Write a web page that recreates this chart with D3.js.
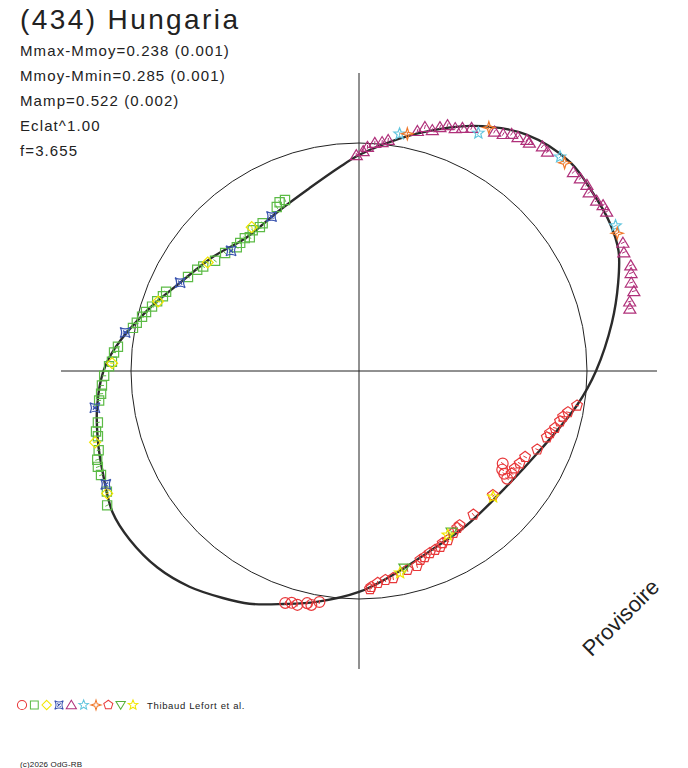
<!DOCTYPE html>
<html>
<head>
<meta charset="utf-8">
<script src="https://cdn.jsdelivr.net/npm/d3@7"></script>
<style>
  body { margin: 0; background: #fff; }
  text { font-family: "Liberation Sans", Arial, sans-serif; }
</style>
</head>
<body>
<div id="chart"></div>
<script>
// phase (0..1, clockwise from top) and magnitude offset from mean (negative = brighter)
var curvePhase = [0.000, 0.021, 0.042, 0.069, 0.098, 0.126, 0.146, 0.165, 0.181, 0.198, 0.220, 0.250,
    0.275, 0.316, 0.360, 0.403, 0.443, 0.474, 0.500, 0.529, 0.550, 0.570, 0.586, 0.606, 0.627,
    0.649, 0.667, 0.690, 0.709, 0.728, 0.749, 0.765, 0.794, 0.823, 0.856, 0.889, 0.927, 0.958, 0.985];
var curveMag = [0.059, -0.014, -0.089, -0.184, -0.260, -0.287, -0.276, -0.266, -0.246, -0.198, -0.132, -0.042,
    0.036, 0.156, 0.216, 0.209, 0.174, 0.106, 0.034, -0.032, -0.078, -0.131, -0.162, -0.201, -0.229,
    -0.241, -0.239, -0.206, -0.184, -0.161, -0.126, -0.078, 0.036, 0.145, 0.226, 0.290, 0.261, 0.201, 0.116];

var circleObs = [[0.549, -0.071], [0.545, -0.062], [0.541, -0.064], [0.535, -0.046], [0.532, -0.050],
    [0.527, -0.030], [0.341, 0.313], [0.346, 0.294], [0.348, 0.269], [0.350, 0.238]];
var squareObs = [[0.766, -0.066], [0.780, -0.010], [0.784, 0.003], [0.789, 0.021], [0.793, 0.034],
    [0.798, 0.055], [0.803, 0.071], [0.808, 0.090], [0.812, 0.097], [0.830, 0.169], [0.839, 0.193],
    [0.844, 0.212], [0.854, 0.249], [0.865, 0.266], [0.876, 0.294], [0.881, 0.289], [0.887, 0.286],
    [0.891, 0.302], [0.897, 0.279], [0.904, 0.289], [0.908, 0.279], [0.926, 0.236], [0.930, 0.218],
    [0.935, 0.219], [0.762, -0.081], [0.756, -0.088], [0.753, -0.100], [0.747, -0.121], [0.741, -0.132],
    [0.736, -0.138], [0.732, -0.149], [0.719, -0.168], [0.714, -0.183], [0.711, -0.180], [0.703, -0.192],
    [0.698, -0.209], [0.694, -0.216], [0.689, -0.216], [0.679, -0.221], [0.672, -0.244]];
var diamondObs = [[0.803, 0.076], [0.849, 0.220], [0.898, 0.260], [0.755, -0.087], [0.708, -0.197], [0.678, -0.223]];
var astroidObs = [[0.776, -0.042], [0.823, 0.145], [0.870, 0.284], [0.918, 0.272], [0.728, -0.170], [0.683, -0.213]];
var triangleObs = [[0.998, 0.059], [0.003, 0.039], [0.006, 0.018], [0.011, -0.003], [0.016, -0.010],
    [0.020, -0.023], [0.038, -0.087], [0.042, -0.112], [0.047, -0.108], [0.051, -0.130], [0.055, -0.148],
    [0.060, -0.148], [0.064, -0.160], [0.069, -0.175], [0.082, -0.204], [0.087, -0.213], [0.091, -0.231],
    [0.095, -0.234], [0.100, -0.245], [0.102, -0.242], [0.109, -0.261], [0.113, -0.258], [0.131, -0.270],
    [0.136, -0.274], [0.141, -0.277], [0.145, -0.266], [0.151, -0.270], [0.155, -0.280], [0.159, -0.278],
    [0.178, -0.274], [0.183, -0.262], [0.191, -0.267], [0.195, -0.258], [0.200, -0.247], [0.205, -0.247],
    [0.210, -0.221], [0.214, -0.215]];
var cyanStarObs = [[0.027, -0.058], [0.074, -0.168], [0.120, -0.275], [0.168, -0.279]];
var orangeStarObs = [[0.032, -0.065], [0.078, -0.207], [0.124, -0.271], [0.172, -0.271]];
var pentagonObs = [[0.275, 0.035], [0.281, 0.074], [0.285, 0.094], [0.289, 0.104], [0.295, 0.120],
    [0.300, 0.138], [0.304, 0.147], [0.316, 0.171], [0.326, 0.215], [0.333, 0.225], [0.339, 0.235],
    [0.344, 0.234], [0.369, 0.241], [0.393, 0.235], [0.408, 0.232], [0.411, 0.226], [0.416, 0.213],
    [0.423, 0.192], [0.428, 0.190], [0.431, 0.177], [0.436, 0.173], [0.441, 0.168], [0.446, 0.157],
    [0.450, 0.150], [0.454, 0.124], [0.462, 0.117], [0.474, 0.090], [0.480, 0.086], [0.486, 0.075],
    [0.491, 0.057], [0.492, 0.047]];
var downTriObs = [[0.464, 0.130], [0.417, 0.222]];
var yellowStarObs = [[0.468, 0.110], [0.421, 0.218], [0.370, 0.233]];

var seriesNames = ["circle", "square", "diamond", "astroid", "triangle", "star5", "star4", "pentagon", "triangleDown", "star5b"];
var seriesColors = ["#e8383a", "#5cbb46", "#f2e600", "#3a54b0", "#b0307a", "#62c6de", "#f0782a", "#e8383a", "#55b03a", "#f2e600"];
var seriesData = [circleObs, squareObs, diamondObs, astroidObs, triangleObs, cyanStarObs, orangeStarObs, pentagonObs, downTriObs, yellowStarObs];

var infoLines = ["Mmax-Mmoy=0.238 (0.001)", "Mmoy-Mmin=0.285 (0.001)", "Mamp=0.522 (0.002)", "Eclat^1.00", "f=3.655"];

var width = 688, height = 768, cx = 359, cy = 371, meanRadius = 228, axisFlux = 1.307;

function flux(dm) { return Math.pow(10, -0.4 * dm); }

function starPath(n, ro, ri, rot) {
    var pts = [];
    for (var k = 0; k < 2 * n; k++) {
        var a = rot + k * Math.PI / n;
        var r = k % 2 ? ri : ro;
        pts.push([r * Math.sin(a), -r * Math.cos(a)]);
    }
    return "M" + pts.map(function(p) { return p[0].toFixed(2) + "," + p[1].toFixed(2); }).join("L") + "Z";
}

var shapes = {
    circle: d3.symbol(d3.symbolCircle, 92)(),
    square: "M-4.6,-4.6L4.6,-4.6L4.6,4.6L-4.6,4.6Z",
    diamond: "M0,-5.5L5.5,0L0,5.5L-5.5,0Z",
    astroid: "M-5,-5Q0,-2 5,-5Q2,0 5,5Q0,2 -5,5Q-2,0 -5,-5ZM-2,-2L2,2M2,-2L-2,2",
    triangle: "M0,-5.5L6,4.5L-6,4.5Z",
    star5: starPath(5, 6, 2.6, 0),
    star4: starPath(4, 6, 2, 0),
    pentagon: starPath(5, 5.6, 5.6 * Math.cos(Math.PI / 5), 0),
    triangleDown: "M-5.5,-4L5.5,-4L0,5Z",
    star5b: starPath(5, 6, 2.6, 0)
};

var svg = d3.select("#chart").append("svg")
    .attr("width", width)
    .attr("height", height)
    .style("display", "block");

svg.append("rect").attr("width", width).attr("height", height).attr("fill", "#fff");

var angle = d3.scaleLinear().domain([0, 1]).range([0, 2 * Math.PI]);
var radius = d3.scaleLinear().domain([0, 1]).range([0, meanRadius]);

var plot = svg.append("g").attr("transform", "translate(" + cx + "," + cy + ")");

// axes
var axisR = radius(axisFlux);
plot.append("line").attr("x1", -axisR).attr("x2", axisR).attr("y1", 0).attr("y2", 0)
    .attr("stroke", "#222").attr("stroke-width", 1);
plot.append("line").attr("x1", 0).attr("x2", 0).attr("y1", -axisR).attr("y2", axisR)
    .attr("stroke", "#222").attr("stroke-width", 1);

// mean brightness circle
plot.append("circle").attr("r", radius(1))
    .attr("fill", "none").attr("stroke", "#222").attr("stroke-width", 1);

// fitted curve
var curvePts = curvePhase.map(function(p, i) { return [p, curveMag[i]]; });
var line = d3.lineRadial()
    .angle(function(d) { return angle(d[0]); })
    .radius(function(d) { return radius(flux(d[1])); })
    .curve(d3.curveCatmullRomClosed.alpha(0.5));
plot.append("path").datum(curvePts)
    .attr("d", line)
    .attr("fill", "none")
    .attr("stroke", "#2b2b2b")
    .attr("stroke-width", 2.4);

// observations, each with a tiny radial error tick
seriesData.forEach(function(data, i) {
    var marks = plot.append("g").selectAll("g")
        .data(data)
        .enter().append("g")
        .attr("transform", function(d) {
            var p = d3.pointRadial(angle(d[0]), radius(flux(d[1])));
            return "translate(" + p[0] + "," + p[1] + ")";
        });
    marks.append("path")
        .attr("d", shapes[seriesNames[i]])
        .attr("fill", "none")
        .attr("stroke", seriesColors[i])
        .attr("stroke-width", 1.2);
    marks.append("line")
        .attr("x1", function(d) { return -2 * Math.sin(angle(d[0])); })
        .attr("y1", function(d) { return 2 * Math.cos(angle(d[0])); })
        .attr("x2", function(d) { return 2 * Math.sin(angle(d[0])); })
        .attr("y2", function(d) { return -2 * Math.cos(angle(d[0])); })
        .attr("stroke", seriesColors[i])
        .attr("stroke-width", 1);
});

// texts
svg.append("text").attr("x", 20).attr("y", 29)
    .attr("font-size", "28px").attr("letter-spacing", "2.4px").attr("fill", "#222").text("(434) Hungaria");

svg.selectAll("text.info").data(infoLines).enter().append("text")
    .attr("class", "info")
    .attr("x", 20)
    .attr("y", function(d, i) { return 56 + i * 25; })
    .attr("font-size", "15px")
    .attr("letter-spacing", "1.1px")
    .attr("fill", "#222")
    .text(function(d) { return d; });

svg.append("text")
    .attr("transform", "translate(626,623) rotate(-45)")
    .attr("text-anchor", "middle")
    .attr("font-size", "22px")
    .attr("fill", "#222")
    .text("Provisoire");

// legend
var legendX = d3.scalePoint().domain(seriesNames).range([22, 133]);
svg.append("g").selectAll("path")
    .data(seriesNames)
    .enter().append("path")
    .attr("transform", function(d) { return "translate(" + legendX(d) + ",705) scale(0.85)"; })
    .attr("d", function(d) { return shapes[d]; })
    .attr("fill", "none")
    .attr("stroke", function(d, i) { return seriesColors[i]; })
    .attr("stroke-width", 1.2);

svg.append("text").attr("x", 147).attr("y", 709)
    .attr("font-size", "9.5px").attr("letter-spacing", "0.65px").attr("fill", "#222")
    .text("Thibaud Lefort et al.");

svg.append("text").attr("x", 20).attr("y", 767)
    .attr("font-size", "8px").attr("letter-spacing", "0.15px").attr("fill", "#222")
    .text("(c)2026 OdG-RB");
</script>
</body>
</html>
